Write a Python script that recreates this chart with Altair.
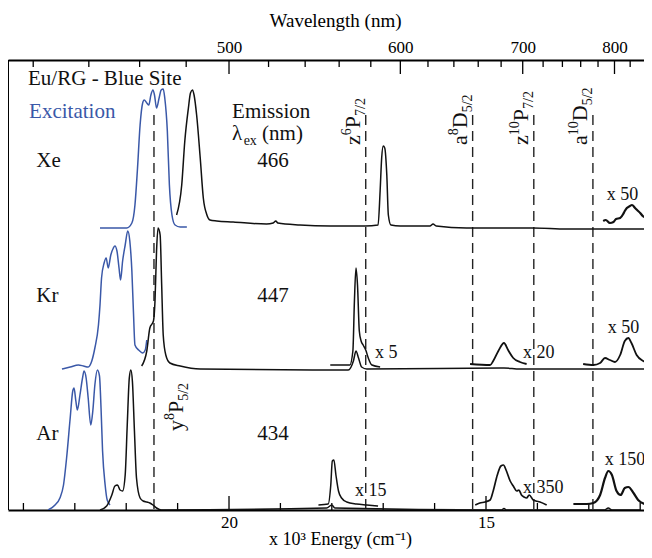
import altair as alt
import pandas as pd

SERIF = "Liberation Serif"
BLUE = "#3a58a8"
BLACK = "#111111"

# ---------------- axis tick values ----------------
energy_major = [20, 15]                      # x 10^3 cm^-1
energy_minor = [24, 23, 22, 21, 19, 18, 17, 16, 14, 13, 12]
wl_major = [500, 600, 700, 800]              # nm
wl_minor = [420, 440, 460, 480, 520, 540, 560, 580, 620, 640, 660, 680,
            720, 740, 760, 780, 820, 840]

# ---------------- spectra (energy in 10^3 cm^-1, intensity a.u. above baseline) ----------------
xe_exc_E = [22.51, 21.99, 21.89, 21.83, 21.78, 21.73, 21.68, 21.65, 21.60, 21.56, 21.52, 21.48,
            21.45, 21.41, 21.36, 21.32, 21.28, 21.25, 21.20, 21.16, 21.11, 21.05, 20.95, 20.82]
xe_exc_I = [0, 0, 5, 23, 60, 103, 125, 128, 125, 123, 133, 138,
            133, 120, 130, 138, 139, 130, 97, 43, 13, 3, 1, 1]

xe_em_E = [21.02, 20.92, 20.86, 20.79, 20.75, 20.71, 20.68, 20.63, 20.56, 20.50, 20.43, 20.37,
           20.24, 19.92, 19.27, 19.14, 19.09, 19.05, 18.62, 18.03, 17.35, 17.10, 17.06, 17.03,
           17.00, 16.97, 16.93, 16.90, 16.85, 16.67, 16.09, 16.03, 15.97, 15.38, 14.08, 13.43,
           12.91, 11.77]
xe_em_I = [13, 43, 87, 120, 135, 138, 133, 113, 70, 30, 13, 8,
           7, 6, 4, 5, 7, 5, 3, 2, 2, 3, 37, 70,
           82, 80, 53, 13, 3, 2, 2, 4, 2, 0, 0, -1,
           -1, -1]

xe_x50_E = [12.72, 12.67, 12.59, 12.52, 12.47, 12.39, 12.33, 12.30, 12.26, 12.20, 12.16, 12.10,
            12.06, 12.00, 11.95, 11.87, 11.77]
xe_x50_I = [7, 8, 5, 6, 9, 10, 14, 17, 20, 22, 23, 20,
            18, 15, 12, 10, 7]

kr_exc_E = [23.25, 23.09, 22.93, 22.83, 22.74, 22.67, 22.61, 22.54, 22.51, 22.48, 22.43, 22.39,
            22.35, 22.30, 22.25, 22.22, 22.18, 22.14, 22.11, 22.07, 22.02, 21.97, 21.93, 21.89,
            21.86, 21.83, 21.76, 21.68, 21.63, 21.60]
kr_exc_I = [0, 2, 4, 3, 2, 8, 21, 44, 64, 91, 106, 111,
            101, 114, 121, 123, 118, 101, 89, 108, 124, 138, 128, 98,
            58, 24, 19, 16, 19, 29]

kr_em_E = [21.70, 21.60, 21.54, 21.47, 21.44, 21.41, 21.38, 21.34, 21.31, 21.28, 21.23, 21.15,
           20.95, 20.56, 18.03, 17.68, 17.58, 17.53, 17.48, 17.42, 17.32, 14.65, 14.34, 11.77]
kr_em_I = [3, 18, 41, 48, 68, 118, 141, 134, 84, 34, 14, 6,
           3, 0, -1, -1, 8, 18, 11, 2, 0, 1, 0, 0]

kr_x5_E = [18.03, 17.65, 17.59, 17.56, 17.53, 17.50, 17.465, 17.43, 17.39, 17.34, 17.29, 17.22, 17.06]
kr_x5_I = [4, 4, 18, 68, 101, 84, 38, 28, 24, 19, 11, 4, 2]

kr_x20_E = [15.31, 14.92, 14.86, 14.76, 14.65, 14.57, 14.47, 14.34, 14.21]
kr_x20_I = [5, 4, 8, 18, 26, 19, 11, 7, 5]

kr_x50_E = [13.11, 12.91, 12.78, 12.685, 12.59, 12.49, 12.39, 12.30, 12.23, 12.17, 12.07, 11.94, 11.77]
kr_x50_I = [5, 4, 6, 11, 9, 7, 14, 28, 31, 26, 14, 8, 5]

ar_exc_E = [23.52, 23.385, 23.29, 23.22, 23.16, 23.09, 23.04, 23.015, 22.98, 22.95, 22.90, 22.85,
            22.82, 22.78, 22.74, 22.69, 22.65, 22.61, 22.56, 22.52, 22.49, 22.46, 22.41, 22.37, 22.315]
ar_exc_I = [0, 5, 12, 25, 52, 92, 119, 122, 109, 100, 115, 132,
            139, 132, 112, 85, 99, 125, 140, 134, 102, 59, 25, 10, 5]

ar_em_E = [22.51, 22.38, 22.28, 22.22, 22.17, 22.12, 22.07, 22.02, 21.98, 21.94, 21.91, 21.88,
           21.84, 21.80, 21.73, 21.67, 21.60, 21.54, 21.48, 21.41, 21.31, 18.10, 18.00, 17.94,
           14.70, 14.65, 14.60, 12.70, 12.62, 12.55, 12.00]
ar_em_I = [0, 4, 15, 24, 25, 20, 19, 35, 85, 132, 140, 129,
           79, 32, 12, 9, 8, 7, 5, 2, 0, 2, 5, 2,
           0, 1.5, 0, 0, 2, 0, 0]

ar_x15_E = [18.26, 18.07, 18.02, 17.99, 17.96, 17.92, 17.87, 17.81, 17.71, 17.52, 17.32, 17.10]
ar_x15_I = [5, 6, 25, 49, 50, 35, 19, 12, 8, 6, 5, 4]

ar_x350_E = [15.21, 15.12, 15.02, 14.92, 14.86, 14.78, 14.71, 14.66, 14.61, 14.53, 14.47, 14.40,
             14.36, 14.31, 14.26, 14.21, 14.16, 14.08, 14.03, 13.95, 13.82]
ar_x350_I = [5, 7, 8, 10, 19, 35, 44, 45, 40, 29, 24, 19,
             20, 15, 13, 12, 15, 10, 9, 8, 5]

ar_x150_E = [13.30, 13.04, 12.91, 12.78, 12.685, 12.62, 12.55, 12.46, 12.38, 12.30, 12.23, 12.13,
             12.04, 11.91, 11.77]
ar_x150_I = [6, 6, 7, 15, 32, 39, 35, 19, 15, 22, 23, 17, 10, 6, 5]

row_base = {"Xe": 282, "Kr": 141, "Ar": 0}

traces = [
    ("Xe", "exc", xe_exc_E, xe_exc_I, BLUE, 1.5),
    ("Xe", "em", xe_em_E, xe_em_I, BLACK, 1.5),
    ("Xe", "x50", xe_x50_E, xe_x50_I, BLACK, 2.2),
    ("Kr", "exc", kr_exc_E, kr_exc_I, BLUE, 1.5),
    ("Kr", "em", kr_em_E, kr_em_I, BLACK, 1.5),
    ("Kr", "x5", kr_x5_E, kr_x5_I, BLACK, 1.5),
    ("Kr", "x20", kr_x20_E, kr_x20_I, BLACK, 1.8),
    ("Kr", "x50", kr_x50_E, kr_x50_I, BLACK, 1.8),
    ("Ar", "exc", ar_exc_E, ar_exc_I, BLUE, 1.5),
    ("Ar", "em", ar_em_E, ar_em_I, BLACK, 1.5),
    ("Ar", "x15", ar_x15_E, ar_x15_I, BLACK, 1.5),
    ("Ar", "x350", ar_x350_E, ar_x350_I, BLACK, 1.7),
    ("Ar", "x150", ar_x150_E, ar_x150_I, BLACK, 2.2),
]

# atomic levels (dashed lines)
level_E = [21.46, 17.34, 15.26, 14.07, 12.92]
level_letter = ["y", "z", "a", "z", "a"]
level_mult = ["8", "6", "8", "10", "10"]
level_term = ["P", "P", "D", "P", "D"]
level_J = ["5/2", "7/2", "5/2", "7/2", "5/2"]

# ---------------- build tables ----------------
rows = []
for row, name, E, I, col, w in traces:
    for j, (e, i) in enumerate(zip(E, I)):
        rows.append(dict(trace=f"{row}-{name}", idx=j, E=e, Y=i + row_base[row], color=col, w=w))
df_tr = pd.DataFrame(rows)

xs = alt.Scale(domain=[11.926, 24.30], reverse=True, nice=False, zero=False)
ys = alt.Scale(domain=[0, 450], nice=False, zero=False)

TW = {'z': .444, 'y': .5, 'a': .444, 'P': .556, 'D': .722, '/': .278, 'λ': .55, 'e': .444,
      'x': .5, ' ': .25, '(': .333, ')': .333, 'n': .5, 'm': .778}
def tw(s, size):
    return sum(TW.get(c, .5) for c in s) * size

MAIN, SCRIPT = 22, 14
txt = []
for k in range(len(level_E)):
    parts = [(level_letter[k], MAIN, 0), (level_mult[k], SCRIPT, -9),
             (level_term[k], MAIN, 0), (level_J[k], SCRIPT, 5)]
    if k == 0:
        y0, side = 79, 29
    else:
        y0, side = 365, -6
    adv = 0
    for s, fs, sh in parts:
        txt.append(dict(E=level_E[k], Y=y0, text=s, fs=fs, dx=adv, dy=side + sh, ang=270, color=BLACK))
        adv += tw(s, fs)

def htext(E, Y, s, fs=21, color=BLACK, dx=0, dy=0):
    txt.append(dict(E=E, Y=Y, text=s, fs=fs, dx=dx, dy=dy, ang=0, color=color))

htext(23.91, 425, "Eu/RG - Blue Site")
htext(23.89, 392, "Excitation", color=BLUE)
htext(19.94, 392, "Emission")
lam_parts = [("λ", 21, 0, 0), ("ex", 14, 5, 0), ("(nm)", 21, 0, 0.25 * 21)]
adv = 0
for s, fs, sh, gap in lam_parts:
    adv += gap
    htext(19.94, 370, s, fs=fs, dx=adv, dy=sh)
    adv += tw(s, fs)
for lab, yy, lam in [("Xe", 343, "466"), ("Kr", 208, "447"), ("Ar", 70, "434")]:
    htext(23.75, yy, lab)
    htext(19.45, yy, lam)
for E, Y, s in [(12.65, 310, "x 50"), (17.16, 152, "x 5"), (14.28, 152, "x 20"),
                (12.63, 177, "x 50"), (17.55, 14, "x 15"), (14.28, 17, "x 350"),
                (12.69, 45, "x 150")]:
    htext(E, Y, s, fs=18)
df_txt = pd.DataFrame(txt)

# ticks
bt = pd.DataFrame({"E": energy_major + energy_minor,
                   "y0": [0] * (len(energy_major) + len(energy_minor)),
                   "y1": [14] * len(energy_major) + [7] * len(energy_minor)})
tt = pd.DataFrame({"E": [10000 / l for l in wl_major + wl_minor],
                   "y0": [450] * (len(wl_major) + len(wl_minor)),
                   "y1": [436] * len(wl_major) + [443] * len(wl_minor)})

axis_style = dict(ticks=False, tickSize=0, domain=True, domainColor="black", domainWidth=2,
                  grid=False, labelFont=SERIF, labelFontSize=17, labelColor="black",
                  labelBaseline="alphabetic", titleFont=SERIF, titleFontWeight="normal",
                  titleColor="black", titleBaseline="alphabetic", titleAlign="center")

bottom_axis = alt.Axis(orient="bottom", values=energy_major, format="d", labelPadding=17,
                       title="x 10³ Energy (cm⁻¹)", titleFontSize=18, titleX=332, titleY=34,
                       **axis_style)
top_axis = alt.Axis(orient="top", values=[10000 / l for l in wl_major],
                    labelExpr="format(10000/datum.value, '.0f')", labelPadding=8,
                    title="Wavelength (nm)", titleFontSize=19, titleX=327, titleY=-34,
                    **axis_style)

l_bt = alt.Chart(bt).mark_rule(color="black", strokeWidth=1.3, clip=True).encode(
    x=alt.X("E:Q", scale=xs, axis=bottom_axis),
    y=alt.Y("y0:Q", scale=ys, axis=None), y2="y1:Q")
l_tt = alt.Chart(tt).mark_rule(color="black", strokeWidth=1.3, clip=True).encode(
    x=alt.X("E:Q", scale=xs, axis=top_axis),
    y=alt.Y("y0:Q", scale=ys, axis=None), y2="y1:Q")
l_left = alt.Chart(pd.DataFrame({"a": [0]})).mark_rule(color="black", strokeWidth=2).encode(
    x=alt.value(0), y=alt.value(0), y2=alt.value(450))

df_lv = pd.DataFrame({"E": level_E, "top": [395] * len(level_E), "bot": [0] * len(level_E)})
l_lv = alt.Chart(df_lv).mark_rule(color="#222222", strokeWidth=1.4, strokeDash=[10, 6]).encode(
    x=alt.X("E:Q", scale=xs, axis=None),
    y=alt.Y("top:Q", scale=ys, axis=None), y2="bot:Q")

l_tr = alt.Chart(df_tr).mark_line(interpolate="monotone", clip=True).encode(
    x=alt.X("E:Q", scale=xs, axis=None),
    y=alt.Y("Y:Q", scale=ys, axis=None),
    detail="trace:N", order="idx:Q",
    color=alt.Color("color:N", scale=None),
    size=alt.Size("w:Q", scale=None))

l_txt = alt.Chart(df_txt).mark_text(font=SERIF, align="left", baseline="alphabetic",
                                     dx={"expr": "datum.dx"}, dy={"expr": "datum.dy"}).encode(
    x=alt.X("E:Q", scale=xs, axis=None),
    y=alt.Y("Y:Q", scale=ys, axis=None),
    text="text:N",
    size=alt.Size("fs:Q", scale=None),
    angle=alt.Angle("ang:Q", scale=None),
    color=alt.Color("color:N", scale=None))

chart = alt.layer(l_bt, l_tt, l_left, l_lv, l_tr, l_txt).resolve_axis(x="independent").properties(
    width=636, height=450,
    padding={"left": 0, "right": 0, "top": 52, "bottom": 40},
    autosize=alt.AutoSizeParams(type="none"),
    background="white",
).configure_view(stroke=None).configure_axisTop(
    labelFont=SERIF, labelFontSize=17, labelColor="black",
    titleFont=SERIF, titleFontSize=19, titleFontWeight="normal", titleColor="black",
).configure_axisBottom(
    labelFont=SERIF, labelFontSize=17, labelColor="black",
    titleFont=SERIF, titleFontSize=18, titleFontWeight="normal", titleColor="black",
)

chart.save("out.html", embed_options={"renderer": "svg", "actions": False})
